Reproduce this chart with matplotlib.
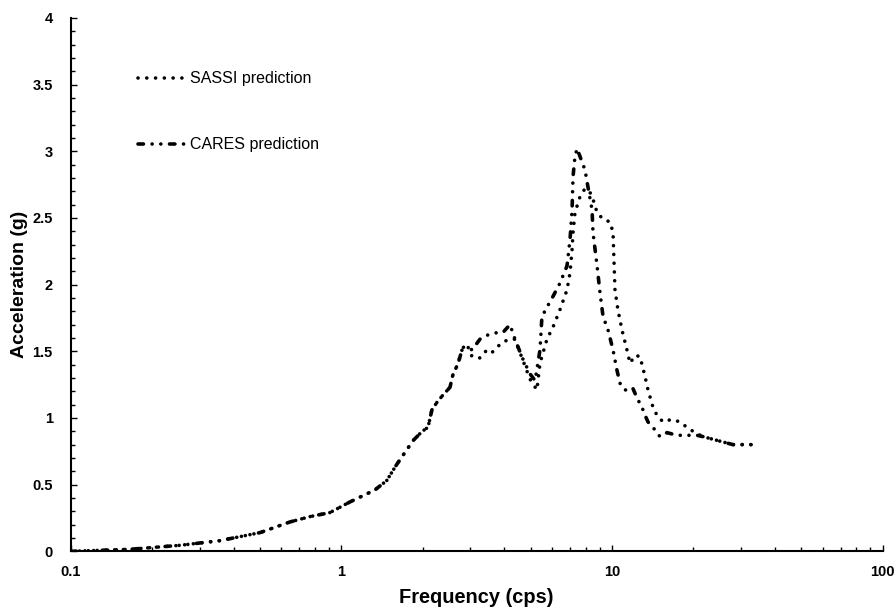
import matplotlib
matplotlib.use("Agg")
import matplotlib.pyplot as plt
from matplotlib.ticker import FixedLocator, MultipleLocator, FuncFormatter, LogLocator, NullFormatter

plt.rcParams["font.family"] = ["Liberation Sans", "DejaVu Sans"]

# CARES prediction (dash-dot-dot)
cares_freq = [0.1, 0.165, 0.253, 0.356, 0.5, 0.645, 0.765, 0.906, 1.075, 1.33,
              1.47, 1.6, 1.84, 1.99, 2.09, 2.16, 2.26, 2.37, 2.52, 2.58,
              2.70, 2.81, 2.94, 3.04, 3.25, 3.45, 3.76, 3.95, 4.20, 4.38,
              4.69, 4.98, 5.2, 5.42, 5.51, 5.75, 6.05, 6.42, 6.82, 7.00,
              7.12, 7.18, 7.30, 7.43, 7.95, 8.09, 8.44, 8.51, 8.81, 9.03,
              9.27, 9.67, 10.09, 10.43, 10.71, 11.0, 11.46, 11.96, 12.37, 12.91,
              13.25, 13.59, 14.43, 15.04, 15.97, 17.38, 18.93, 20.61, 21.70, 23.62,
              25.72, 28.0, 29.7, 32.9]
cares_acc = [0.0, 0.015, 0.045, 0.08, 0.14, 0.22, 0.26, 0.29, 0.37, 0.46,
             0.53, 0.65, 0.83, 0.90, 0.93, 1.06, 1.12, 1.17, 1.23, 1.32,
             1.41, 1.53, 1.53, 1.51, 1.59, 1.62, 1.64, 1.64, 1.70, 1.59,
             1.44, 1.33, 1.28, 1.51, 1.76, 1.83, 1.91, 2.01, 2.14, 2.34,
             2.56, 2.81, 2.96, 3.02, 2.86, 2.77, 2.56, 2.39, 2.14, 1.94,
             1.76, 1.66, 1.51, 1.36, 1.26, 1.22, 1.20, 1.22, 1.15, 1.08,
             1.02, 0.97, 0.91, 0.86, 0.89, 0.87, 0.87, 0.87, 0.86, 0.84,
             0.82, 0.80, 0.80, 0.80]

# SASSI prediction (dotted)
sassi_freq = [0.1, 0.165, 0.253, 0.356, 0.5, 0.645, 0.765, 0.906, 1.075, 1.33,
              1.47, 1.6, 1.84, 1.99, 2.09, 2.16, 2.26, 2.37, 2.52, 2.58,
              2.70, 2.81, 2.94, 3.04, 3.25, 3.45, 3.60, 3.76, 3.95, 4.20,
              4.38, 4.98, 5.28, 5.42, 5.75, 6.05, 6.42, 6.82, 7.00, 7.12,
              7.18, 7.30, 7.62, 7.95, 8.30, 8.51, 8.81, 9.27, 9.84, 10.09,
              10.26, 10.52, 10.89, 11.36, 11.66, 12.17, 12.70, 13.25, 13.59, 14.18,
              14.67, 15.44, 16.66, 17.84, 18.93, 20.27, 21.70, 23.62, 25.72, 28.0,
              29.7, 32.9]
sassi_acc = [0.0, 0.015, 0.045, 0.08, 0.14, 0.22, 0.26, 0.29, 0.37, 0.46,
             0.53, 0.65, 0.83, 0.90, 0.93, 1.06, 1.12, 1.17, 1.23, 1.32,
             1.41, 1.53, 1.53, 1.46, 1.45, 1.51, 1.49, 1.53, 1.57, 1.59,
             1.59, 1.29, 1.21, 1.41, 1.59, 1.68, 1.81, 1.96, 2.09, 2.26,
             2.39, 2.54, 2.66, 2.72, 2.69, 2.64, 2.54, 2.49, 2.47, 2.39,
             1.96, 1.81, 1.66, 1.51, 1.41, 1.47, 1.46, 1.31, 1.21, 1.08,
             1.02, 0.97, 0.99, 0.97, 0.93, 0.89, 0.86, 0.84, 0.82, 0.80,
             0.80, 0.80]

x_ticks = [0.1, 1, 10, 100]
x_tick_labels = ["0.1", "1", "10", "100"]

fig = plt.figure(figsize=(8.96, 6.16), dpi=100)
ax = fig.add_axes([0.079, 0.105, 0.906, 0.866])

ax.plot(sassi_freq, sassi_acc, color="black", linewidth=2.6,
        linestyle=(0, (0.01, 2.42)), dash_capstyle="round",
        label="SASSI prediction")
ax.plot(cares_freq, cares_acc, color="black", linewidth=2.6,
        linestyle=(0, (1.5, 2.4, 0.01, 2.4, 0.01, 2.4)), dash_capstyle="round",
        label="CARES prediction")

ax.set_xscale("log")
ax.set_xlim(0.1, 100)
ax.set_ylim(0, 4)

ax.xaxis.set_major_locator(FixedLocator(x_ticks))
ax.xaxis.set_major_formatter(FuncFormatter(lambda v, p: x_tick_labels[x_ticks.index(v)] if v in x_ticks else ""))
ax.xaxis.set_minor_locator(LogLocator(base=10, subs=range(2, 10)))
ax.xaxis.set_minor_formatter(NullFormatter())
ax.yaxis.set_major_locator(MultipleLocator(0.5))
ax.yaxis.set_minor_locator(MultipleLocator(0.1))
ax.yaxis.set_major_formatter(FuncFormatter(lambda v, p: f"{v:g}"))

for side in ["top", "right"]:
    ax.spines[side].set_visible(False)
for side in ["left", "bottom"]:
    ax.spines[side].set_linewidth(1.5)

ax.tick_params(which="both", direction="in", width=1.0)
ax.tick_params(which="major", length=4)
ax.tick_params(which="minor", length=3)
ax.tick_params(axis="x", which="major", pad=10)
ax.tick_params(axis="y", which="major", pad=13)
for lbl in ax.get_xticklabels() + ax.get_yticklabels():
    lbl.set_fontweight("bold")
    lbl.set_fontsize(10.5)

ax.set_xlabel("Frequency (cps)", fontsize=14.4, fontweight="bold", labelpad=6)
ax.set_ylabel("Acceleration (g)", fontsize=14, fontweight="bold", labelpad=3)

ax.legend(loc="upper left", bbox_to_anchor=(0.0825, 0.90), frameon=False,
          fontsize=11.5, handlelength=3.3, handletextpad=0.0,
          labelspacing=3.2, borderpad=0, borderaxespad=0)

fig.savefig("out.png", dpi=100)
